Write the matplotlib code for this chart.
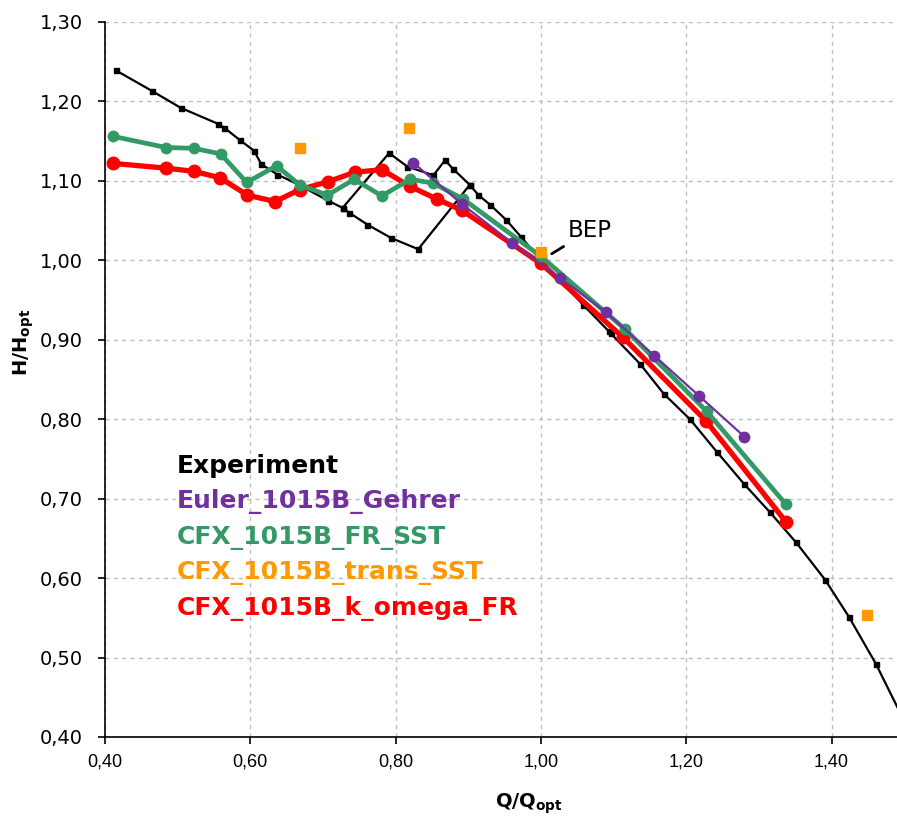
import matplotlib
matplotlib.use("Agg")
import matplotlib.pyplot as plt
from matplotlib.ticker import MultipleLocator, FuncFormatter

# ---- data -------------------------------------------------------------
# Experiment (upper branch through the whole range)
exp_q = [0.415, 0.465, 0.504, 0.555, 0.564, 0.586, 0.605, 0.615, 0.637, 0.667,
         0.707, 0.727, 0.791, 0.816, 0.852, 0.868, 0.879, 0.902, 0.914, 0.930,
         0.952, 0.973, 1.000, 1.058, 1.093, 1.096, 1.136, 1.169, 1.205, 1.242,
         1.280, 1.315, 1.351, 1.391, 1.424, 1.461, 1.500]
exp_h = [1.239, 1.213, 1.192, 1.172, 1.167, 1.151, 1.138, 1.121, 1.108, 1.095,
         1.075, 1.066, 1.135, 1.118, 1.107, 1.126, 1.115, 1.095, 1.082, 1.070,
         1.051, 1.029, 1.000, 0.944, 0.911, 0.908, 0.870, 0.832, 0.800, 0.759,
         0.718, 0.683, 0.645, 0.598, 0.551, 0.492, 0.420]
# Experiment, lower branch of the hysteresis loop
loop_q = [0.727, 0.736, 0.761, 0.794, 0.831, 0.902]
loop_h = [1.066, 1.060, 1.045, 1.028, 1.014, 1.095]

euler_q = [0.824, 0.891, 0.960, 1.026, 1.089, 1.156, 1.218, 1.280]
euler_h = [1.123, 1.071, 1.022, 0.978, 0.935, 0.880, 0.829, 0.778]

sst_q = [0.411, 0.484, 0.522, 0.559, 0.595, 0.636, 0.668, 0.706, 0.743, 0.781,
         0.820, 0.852, 0.893, 1.000, 1.116, 1.228, 1.337]
sst_h = [1.156, 1.142, 1.141, 1.134, 1.098, 1.119, 1.095, 1.082, 1.102, 1.081,
         1.102, 1.097, 1.077, 1.005, 0.913, 0.810, 0.693]

trans_q = [0.668, 0.818, 1.000, 1.449]
trans_h = [1.142, 1.167, 1.011, 0.554]

kom_q = [0.411, 0.484, 0.522, 0.558, 0.596, 0.634, 0.668, 0.707, 0.744, 0.781,
         0.820, 0.857, 0.891, 1.000, 1.113, 1.227, 1.337]
kom_h = [1.122, 1.116, 1.112, 1.104, 1.082, 1.074, 1.089, 1.099, 1.111, 1.114,
         1.093, 1.077, 1.063, 0.996, 0.903, 0.798, 0.671]

bep_q, bep_h = 1.00, 1.00

labels = ["Experiment", "Euler_1015B_Gehrer", "CFX_1015B_FR_SST",
          "CFX_1015B_trans_SST", "CFX_1015B_k_omega_FR"]
colors = ["#000000", "#7030A0", "#339966", "#FF9900", "#FF0000"]

# ---- figure -----------------------------------------------------------
fig = plt.figure(figsize=(8.97, 8.23), dpi=100)
ax = fig.add_axes([0.1171, 0.1045, 0.8829, 0.8688])

l_exp, = ax.plot(exp_q, exp_h, color=colors[0], lw=1.6, marker="s", ms=3.6,
                 zorder=2)
ax.plot(loop_q, loop_h, color=colors[0], lw=1.6, marker="s", ms=3.6, zorder=2)
l_kom, = ax.plot(kom_q, kom_h, color=colors[4], lw=3.8, marker="o", ms=9,
                 zorder=3)
l_sst, = ax.plot(sst_q, sst_h, color=colors[2], lw=3.4, marker="o", ms=7.5,
                 zorder=4)
l_eul, = ax.plot(euler_q, euler_h, color=colors[1], lw=1.6, marker="o", ms=7.5,
                 zorder=5)
l_tr, = ax.plot(trans_q, trans_h, color=colors[3], ls="none", marker="s",
                ms=6.5, zorder=6)

ax.set_xlim(0.40, 1.49)
ax.set_ylim(0.40, 1.30)
ax.xaxis.set_major_locator(MultipleLocator(0.2))
ax.yaxis.set_major_locator(MultipleLocator(0.1))
comma = FuncFormatter(lambda v, p: f"{v:.2f}".replace(".", ","))
ax.xaxis.set_major_formatter(comma)
ax.yaxis.set_major_formatter(comma)

ax.grid(True, color="#BFBFBF", ls=(0, (3, 3)), lw=1.0, zorder=0)
ax.set_axisbelow(True)
for s in ("top", "right"):
    ax.spines[s].set_visible(False)
for s in ("left", "bottom"):
    ax.spines[s].set_linewidth(1.2)

ax.tick_params(axis="both", direction="out", length=5, width=1.2)
ax.tick_params(axis="y", pad=11)
ax.tick_params(axis="x", pad=7)
for t in ax.get_yticklabels():
    t.set_fontfamily("DejaVu Sans")
    t.set_fontsize(14)
for t in ax.get_xticklabels():
    t.set_fontfamily("Liberation Sans")
    t.set_fontsize(13)

ax.set_xlabel(r"$\mathbf{Q/Q_{opt}}$", fontsize=14)
ax.set_ylabel(r"$\mathbf{H/H_{opt}}$", fontsize=14)
ax.xaxis.set_label_coords(0.535, -0.076)
ax.yaxis.set_label_coords(-0.087, 0.552)

# best efficiency point label
ax.annotate("BEP", xy=(bep_q, bep_h), xytext=(19, 13), textcoords="offset points",
            fontsize=16.5, fontfamily="DejaVu Sans", va="bottom", ha="left",
            arrowprops=dict(arrowstyle="-", color="black", lw=2,
                            shrinkA=2, shrinkB=9),
            zorder=7)

# text-only legend coloured like the series
handles = [l_exp, l_eul, l_sst, l_tr, l_kom]
leg = ax.legend(handles, labels, loc="upper left",
                bbox_to_anchor=(0.091, 0.396), frameon=False,
                handlelength=0, handletextpad=0, borderpad=0,
                borderaxespad=0, labelspacing=0.435,
                prop={"family": "DejaVu Sans", "weight": "bold", "size": 18})
for h in leg.legend_handles:
    h.set_visible(False)
for txt, c in zip(leg.get_texts(), colors):
    txt.set_color(c)

fig.savefig("out.png", dpi=100)
